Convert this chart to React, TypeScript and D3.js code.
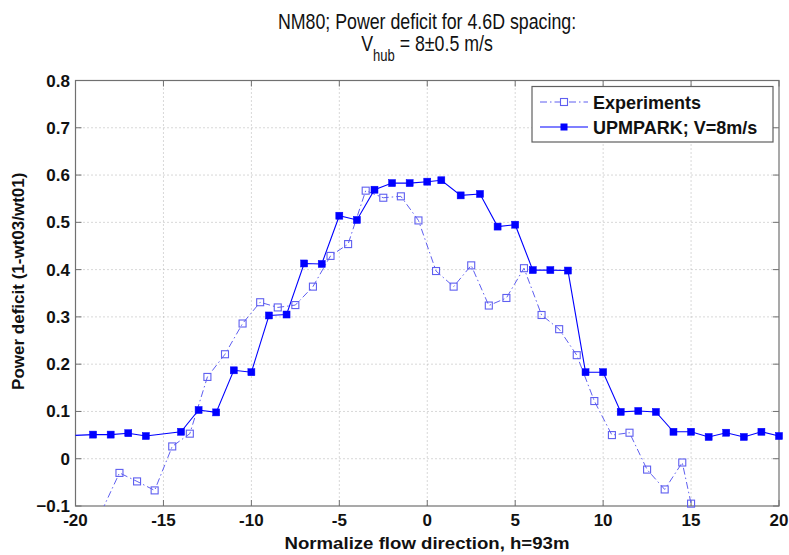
import React from "react";
import * as d3 from "d3";

const expX = [-18.5, -17.5, -16.5, -15.5, -14.5, -13.5, -12.5, -11.5, -10.5, -9.5, -8.5, -7.5, -6.5, -5.5, -4.5, -3.5, -2.5, -1.5, -0.5, 0.5, 1.5, 2.5, 3.5, 4.5, 5.5, 6.5, 7.5, 8.5, 9.5, 10.5, 11.5, 12.5, 13.5, 14.5, 15, 15.5];
const expY = [-0.11, -0.03, -0.048, -0.067, 0.026, 0.053, 0.173, 0.221, 0.286, 0.331, 0.32, 0.325, 0.364, 0.429, 0.454, 0.567, 0.552, 0.555, 0.504, 0.397, 0.364, 0.409, 0.324, 0.34, 0.403, 0.304, 0.274, 0.219, 0.122, 0.05, 0.055, -0.023, -0.065, -0.008, -0.095, -0.25];

const upmX = [-21, -19, -18, -17, -16, -14, -13, -12, -11, -10, -9, -8, -7, -6, -5, -4, -3, -2, -1, 0, 0.8, 1.9, 3, 4, 5, 6, 7, 8, 9, 10, 11, 12, 13, 14, 15, 16, 17, 18, 19, 20];
const upmY = [0.048, 0.051, 0.051, 0.054, 0.048, 0.057, 0.103, 0.098, 0.187, 0.183, 0.303, 0.305, 0.413, 0.412, 0.514, 0.505, 0.569, 0.583, 0.583, 0.586, 0.589, 0.557, 0.56, 0.491, 0.495, 0.399, 0.399, 0.398, 0.183, 0.183, 0.099, 0.101, 0.099, 0.057, 0.057, 0.046, 0.055, 0.046, 0.057, 0.048];

const xTicks = [-20, -15, -10, -5, 0, 5, 10, 15, 20];
const yTicks = [-0.1, 0, 0.1, 0.2, 0.3, 0.4, 0.5, 0.6, 0.7, 0.8];

const W = 789, H = 555;
const L = 75.5, R = 779, T = 80.5, B = 506;

export default function App() {
  const x = d3.scaleLinear().domain([-20, 20]).range([L, R]);
  const y = d3.scaleLinear().domain([-0.1, 0.8]).range([B, T]);
  const line = d3.line<[number, number]>().x(d => x(d[0])).y(d => y(d[1]));
  const expPts: [number, number][] = expX.map((v, i) => [v, expY[i]]);
  const upmPts: [number, number][] = upmX.map((v, i) => [v, upmY[i]]);
  const inside = (p: [number, number]) => p[0] >= -20 && p[0] <= 20 && p[1] >= -0.1 && p[1] <= 0.8;
  const expColor = "#5f5ff0";
  const upmColor = "#0000ff";
  const axisColor = "#707070";
  const gridColor = "#b0b0b0";
  const font = "'Liberation Sans', Arial, Helvetica, sans-serif";
  const ms = 7;
  return (
    <svg width={W} height={H} style={{ position: "absolute", left: 0, top: 0, background: "#fff" }} fontFamily={font}>
      <defs>
        <clipPath id="plotclip">
          <rect x={L} y={T} width={R - L} height={B - T} />
        </clipPath>
      </defs>
      <rect x={0} y={0} width={W} height={H} fill="#fff" />
      {/* grid */}
      {xTicks.filter(t => t > -20 && t < 20).map(t => (
        <line key={"gx" + t} x1={x(t)} x2={x(t)} y1={T} y2={B} stroke={gridColor} strokeWidth={1} strokeDasharray="1,3" />
      ))}
      {yTicks.filter(t => t > -0.1 && t < 0.8).map(t => (
        <line key={"gy" + t} x1={L} x2={R} y1={y(t)} y2={y(t)} stroke={gridColor} strokeWidth={1} strokeDasharray="1,3" />
      ))}
      {/* box */}
      <rect x={L} y={T} width={R - L} height={B - T} fill="none" stroke={axisColor} strokeWidth={1.2} />
      {xTicks.map(t => (
        <g key={"tx" + t}>
          <line x1={x(t)} x2={x(t)} y1={B} y2={B - 6} stroke={axisColor} />
          <line x1={x(t)} x2={x(t)} y1={T} y2={T + 6} stroke={axisColor} />
          <text x={x(t)} y={526} textAnchor="middle" fontSize={17} fontWeight="bold" fill="#111">{t}</text>
        </g>
      ))}
      {yTicks.map(t => (
        <g key={"ty" + t}>
          <line x1={L} x2={L + 6} y1={y(t)} y2={y(t)} stroke={axisColor} />
          <line x1={R} x2={R - 6} y1={y(t)} y2={y(t)} stroke={axisColor} />
          <text x={70} y={y(t) + 6} textAnchor="end" fontSize={17} fontWeight="bold" fill="#111">{d3.format("")(+t.toFixed(1))}</text>
        </g>
      ))}
      {/* data */}
      <g clipPath="url(#plotclip)">
        <path d={line(expPts) || ""} fill="none" stroke={expColor} strokeWidth={1} strokeDasharray="7,3,1.5,3" />
        <path d={line(upmPts) || ""} fill="none" stroke={upmColor} strokeWidth={1.1} />
      </g>
      {expPts.filter(inside).map((p, i) => (
        <rect key={"em" + i} x={x(p[0]) - ms / 2} y={y(p[1]) - ms / 2} width={ms} height={ms} fill="none" stroke={expColor} strokeWidth={1.1} />
      ))}
      {upmPts.filter(inside).map((p, i) => (
        <rect key={"um" + i} x={x(p[0]) - ms / 2} y={y(p[1]) - ms / 2} width={ms} height={ms} fill={upmColor} stroke={upmColor} strokeWidth={0.5} />
      ))}
      {/* legend */}
      <rect x={532} y={86.5} width={241} height={55.5} fill="#fff" stroke="#606060" strokeWidth={1.2} />
      <line x1={540} x2={588} y1={102} y2={102} stroke={expColor} strokeWidth={1} strokeDasharray="7,3,1.5,3" />
      <rect x={564 - ms / 2} y={102 - ms / 2} width={ms} height={ms} fill="#fff" stroke={expColor} strokeWidth={1.1} />
      <text x={593} y={108.5} fontSize={18} fontWeight="bold" fill="#111">Experiments</text>
      <line x1={540} x2={588} y1={127} y2={127} stroke={upmColor} strokeWidth={1.1} />
      <rect x={564 - ms / 2} y={127 - ms / 2} width={ms} height={ms} fill={upmColor} />
      <text x={593} y={133.5} fontSize={18} fontWeight="bold" fill="#111">UPMPARK; V=8m/s</text>
      {/* titles */}
      <g transform="translate(427,0) scale(0.79,1)">
        <text x={0} y={29} textAnchor="middle" fontSize={22.5} fill="#111">NM80; Power deficit for 4.6D spacing:</text>
        <text x={0} y={51} textAnchor="middle" fontSize={22.5} fill="#111">
          <tspan>V</tspan>
          <tspan dy={10} fontSize={16.5}>hub</tspan>
          <tspan dy={-10}> = 8±0.5 m/s</tspan>
        </text>
      </g>
      <text x={427} y={549} textAnchor="middle" fontSize={17} fontWeight="bold" fill="#111" textLength={285} lengthAdjust="spacingAndGlyphs">Normalize flow direction, h=93m</text>
      <text transform={`translate(24,${(T + B) / 2 - 12}) rotate(-90)`} textAnchor="middle" fontSize={17} fontWeight="bold" fill="#111">Power deficit (1-wt03/wt01)</text>
    </svg>
  );
}
